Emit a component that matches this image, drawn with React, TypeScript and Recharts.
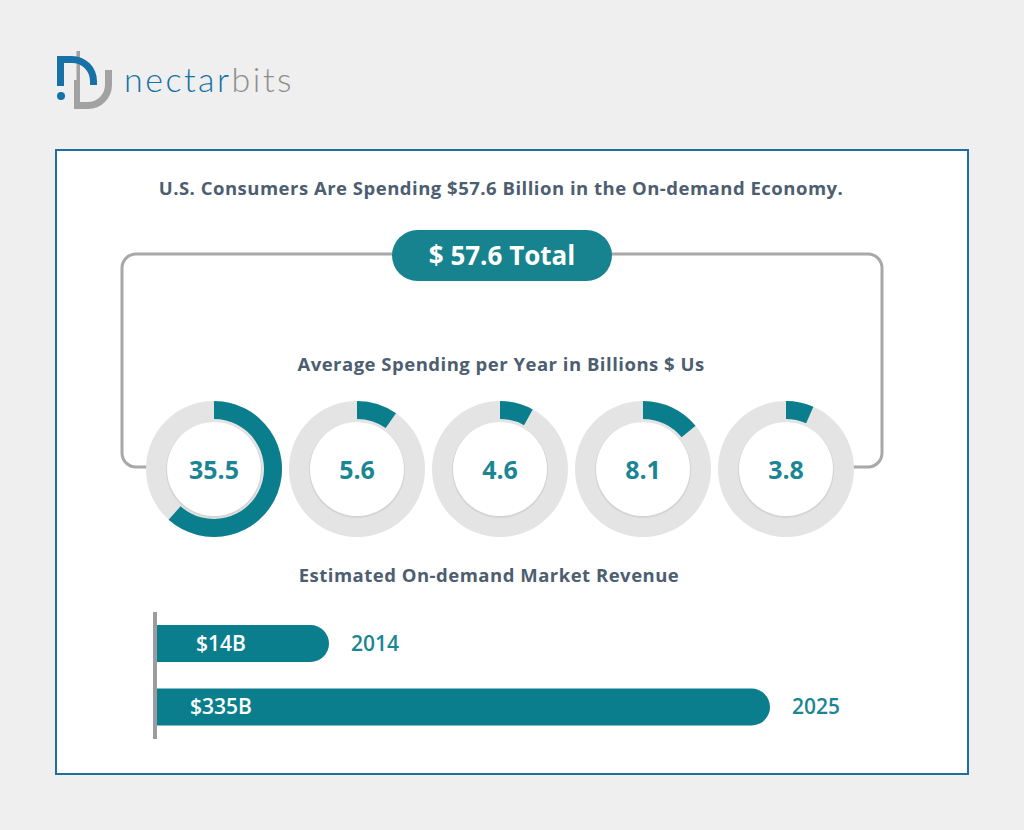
import React from "react";
import { PieChart, Pie, Cell, BarChart, Bar, XAxis, YAxis, LabelList } from "recharts";

// ---- data ----
const TOTAL = 57.6;
const spendValues = [35.5, 5.6, 4.6, 8.1, 3.8];
const spendLabels = ["35.5", "5.6", "4.6", "8.1", "3.8"];
const revenueYears = ["2014", "2025"];
const revenueValues = [14, 335];
const revenueLabels = ["$14B", "$335B"];

const TEAL = "#0a7e8d";
const TEAL_TEXT = "#1b8693";
const SLATE = "#4c5e70";
const RING = "#e4e4e4";
const FONT = "'Open Sans', 'Noto Sans', sans-serif";

const donutCentersX = [214, 357, 500, 643, 786];
const DONUT_Y = 469;
const PIE_LEFT = 100;
const PIE_TOP = 380;

const revenueData = revenueYears.map((y, i) => ({ year: y, value: revenueValues[i], label: revenueLabels[i] }));

function Logo() {
  return (
    <div style={{ position: "absolute", left: 50, top: 40, width: 270, height: 75 }}>
      <svg width={70} height={75} style={{ position: "absolute", left: 0, top: 0 }}>
        <path d="M26.5 11 H30 V40 L30 62 H38 A17 17 0 0 0 55 45 V30 H62 V45 A24 24 0 0 1 38 69 H24 V40 H26.5 Z" fill="#a2a2a2" />
        <path d="M7 16 H22 A25 25 0 0 1 47 41 V45 H40 V41 A18 18 0 0 0 22 23 H14 V46 H7 Z" fill="#1671a6" />
        <circle cx={11} cy={56} r={4} fill="#1671a6" />
      </svg>
      <div style={{ position: "absolute", left: 74, top: 19, fontFamily: "Lato, 'Open Sans', sans-serif", fontSize: 34, fontWeight: 300, letterSpacing: 2.5, lineHeight: "40px", whiteSpace: "nowrap" }}>
        <span style={{ color: "#1671a6" }}>nectar</span>
        <span style={{ color: "#8e8e8e" }}>bits</span>
      </div>
    </div>
  );
}

const headingStyle: React.CSSProperties = {
  position: "absolute",
  left: 0,
  textAlign: "center",
  color: SLATE,
  fontWeight: 700,
  fontSize: 18.5,
  letterSpacing: 0.5,
  whiteSpace: "nowrap",
};

function InsideLabel(props: any) {
  const { x, y, height, value } = props;
  return (
    <text x={x + 66} y={y + height / 2} dy={7} textAnchor="middle" fill="#ffffff" fontSize={21} fontWeight={600} fontFamily={FONT}>
      {value}
    </text>
  );
}

export default function App() {
  return (
    <div style={{ position: "fixed", left: 0, top: 0, width: 1024, height: 830, background: "#efefef", fontFamily: FONT, overflow: "hidden" }}>
      <Logo />
      {/* box */}
      <div style={{ position: "absolute", left: 55, top: 149, width: 910, height: 622, border: "2px solid #1c6ea3", background: "#ffffff" }} />

      <div style={{ ...headingStyle, width: 1002, top: 175 }}>
        U.S. Consumers Are Spending $57.6 Billion in the On-demand Economy.
      </div>

      {/* bracket */}
      <svg width={1024} height={830} style={{ position: "absolute", left: 0, top: 0 }}>
        <path d="M400 254 H136 A14 14 0 0 0 122 268 V453 A14 14 0 0 0 136 467 H160" fill="none" stroke="#a8a8a8" strokeWidth={3} />
        <path d="M600 254 H868 A14 14 0 0 1 882 268 V453 A14 14 0 0 1 868 467 H840" fill="none" stroke="#a8a8a8" strokeWidth={3} />
      </svg>

      {/* pill */}
      <div style={{ position: "absolute", left: 392, top: 230, width: 220, height: 51, borderRadius: 26, background: "#17838f", color: "#fff", fontWeight: 700, fontSize: 26, textAlign: "center", lineHeight: "51px" }}>
        $ {TOTAL} Total
      </div>

      <div style={{ ...headingStyle, width: 1002, top: 351 }}>
        Average Spending per Year in Billions $ Us
      </div>

      {/* donuts */}
      <div style={{ position: "absolute", left: PIE_LEFT, top: PIE_TOP }}>
        <PieChart width={800} height={180} margin={{ top: 0, right: 0, bottom: 0, left: 0 }}>
          {spendValues.map((v, i) => (
            <Pie
              key={"bg" + i}
              data={[{ name: "ring", value: 1 }]}
              dataKey="value"
              cx={donutCentersX[i] - PIE_LEFT}
              cy={DONUT_Y - PIE_TOP}
              innerRadius={46}
              outerRadius={68}
              startAngle={90}
              endAngle={-270}
              stroke="none"
              fill={RING}
              isAnimationActive={false}
            />
          ))}
          {spendValues.map((v, i) => (
            <Pie
              key={"sh" + i}
              data={[{ name: "shadow", value: 1 }]}
              dataKey="value"
              cx={donutCentersX[i] - PIE_LEFT}
              cy={DONUT_Y - PIE_TOP + 1}
              innerRadius={44}
              outerRadius={48}
              startAngle={90}
              endAngle={-270}
              stroke="none"
              fill="#d4d4d4"
              isAnimationActive={false}
            />
          ))}
          {spendValues.map((v, i) => (
            <Pie
              key={"in" + i}
              data={[{ name: "inner", value: 1 }]}
              dataKey="value"
              cx={donutCentersX[i] - PIE_LEFT}
              cy={DONUT_Y - PIE_TOP}
              innerRadius={0}
              outerRadius={47}
              startAngle={90}
              endAngle={-270}
              stroke="none"
              fill="#ffffff"
              isAnimationActive={false}
            />
          ))}
          {spendValues.map((v, i) => (
            <Pie
              key={"val" + i}
              data={[
                { name: "value", value: v },
                { name: "rest", value: TOTAL - v },
              ]}
              dataKey="value"
              cx={donutCentersX[i] - PIE_LEFT}
              cy={DONUT_Y - PIE_TOP}
              innerRadius={50}
              outerRadius={68}
              startAngle={90}
              endAngle={-270}
              stroke="none"
              isAnimationActive={false}
            >
              <Cell fill={TEAL} />
              <Cell fill="transparent" />
            </Pie>
          ))}
        </PieChart>
      </div>
      {spendLabels.map((l, i) => (
        <div key={l + i} style={{ position: "absolute", left: donutCentersX[i] - 50, width: 100, top: DONUT_Y - 20, height: 40, lineHeight: "40px", textAlign: "center", color: TEAL_TEXT, fontWeight: 700, fontSize: 25 }}>
          {l}
        </div>
      ))}

      <div style={{ ...headingStyle, width: 978, top: 562 }}>
        Estimated On-demand Market Revenue
      </div>

      {/* bars */}
      <div style={{ position: "absolute", left: 100, top: 590 }}>
        <BarChart width={800} height={170} data={revenueData} layout="vertical" margin={{ top: 22, right: 130, bottom: 21, left: 52 }}>
          <XAxis type="number" scale="log" domain={[4, 335]} allowDataOverflow hide />
          <YAxis type="category" dataKey="year" width={3} tick={false} tickLine={false} axisLine={{ stroke: "#9c9c9c", strokeWidth: 4 }} />
          <Bar dataKey="value" fill={TEAL} barSize={37} radius={[0, 19, 19, 0]} isAnimationActive={false}>
            <LabelList dataKey="label" content={InsideLabel} />
            <LabelList dataKey="year" position="right" offset={22} fill={TEAL_TEXT} fontSize={21} fontWeight={600} fontFamily={FONT} />
          </Bar>
        </BarChart>
      </div>
    </div>
  );
}
